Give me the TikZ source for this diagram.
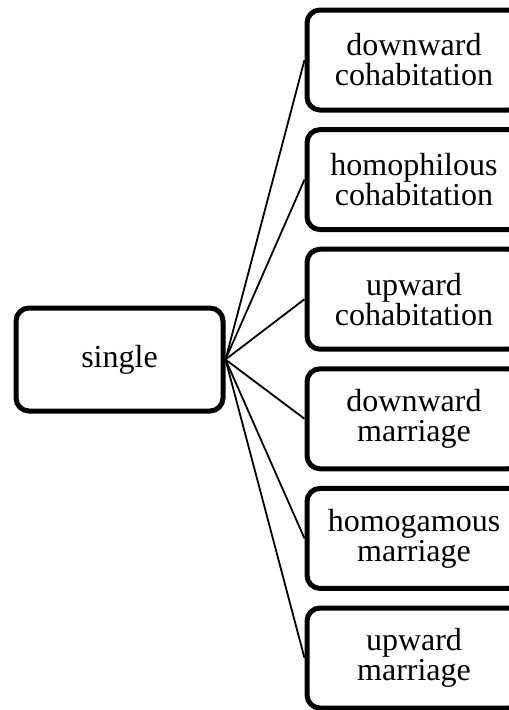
\documentclass[tikz,border=0pt]{standalone}
\usepackage{fontspec}
\setmainfont{Liberation Serif}
\begin{document}
\begin{tikzpicture}[x=1pt,y=-1pt,
  box/.style={draw=black, line width=5pt, rounded corners=13pt, fill=white, align=center,
    font=\fontsize{32}{30}\selectfont, inner sep=0pt},
  leftbox/.style={box, minimum width=207pt, minimum height=103pt},
  rightbox/.style={box, minimum width=214pt, minimum height=100pt},
  conn/.style={draw=black, line width=1.8pt}]
\useasboundingbox (0,0) rectangle (509,710);
\begin{scope}
\clip (0,0) rectangle (509,710);
\node[leftbox] (single) at (119.5,359.5) {single};
\node[rightbox] (b1) at (414,60) {downward\\cohabitation};
\node[rightbox] (b2) at (414,179.6) {homophilous\\cohabitation};
\node[rightbox] (b3) at (414,299.2) {upward\\cohabitation};
\node[rightbox] (b4) at (414,418.8) {downward\\marriage};
\node[rightbox] (b5) at (414,538.4) {homogamous\\marriage};
\node[rightbox] (b6) at (414,658) {upward\\marriage};
\foreach \b in {b1,b2,b3,b4,b5,b6}
  \draw[conn] (single.east) -- (\b.west);
\end{scope}
\end{tikzpicture}
\end{document}
